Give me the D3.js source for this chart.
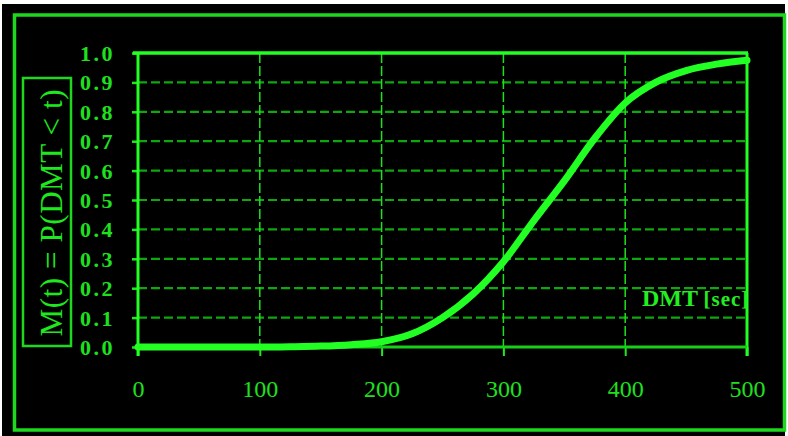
<!DOCTYPE html>
<html>
<head>
<meta charset="utf-8">
<script src="https://cdn.jsdelivr.net/npm/d3@7/dist/d3.min.js"></script>
<style>
  body { margin: 0; background: #fff; }
  svg { display: block; }
  .tick text { font-family: "Liberation Serif", "Times New Roman", serif; fill: #1fe01f; }
</style>
</head>
<body>
<script>
// DMT seconds vs cumulative probability
const dmtTimes = [0, 50, 100, 125, 150, 175, 200, 225, 250, 275, 300, 325, 350, 375, 400, 425, 450, 475, 500];
const probValues = [0, 0, 0, 0.001, 0.003, 0.008, 0.018, 0.045, 0.1, 0.18, 0.29, 0.43, 0.565, 0.71, 0.83, 0.9, 0.94, 0.962, 0.975];

const xTicks = [0, 100, 200, 300, 400, 500];
const yTicks = [0, 0.1, 0.2, 0.3, 0.4, 0.5, 0.6, 0.7, 0.8, 0.9, 1.0];

const W = 788, H = 436;
const plot = {left: 138, right: 747, top: 53, bottom: 347};

const svg = d3.select("body").append("svg")
  .attr("width", W)
  .attr("height", H);

// black card with green frame
svg.append("rect")
  .attr("x", 2).attr("y", 4)
  .attr("width", 783).attr("height", 432)
  .attr("fill", "#000");
svg.append("rect")
  .attr("x", 14.5).attr("y", 15)
  .attr("width", 770).attr("height", 415)
  .attr("fill", "none")
  .attr("stroke", "#1ed81e")
  .attr("stroke-width", 3.5);

const x = d3.scaleLinear().domain([0, 500]).range([plot.left, plot.right]);
const y = d3.scaleLinear().domain([0, 1]).range([plot.bottom, plot.top]);

// horizontal grid
svg.append("g")
  .selectAll("line")
  .data(yTicks.filter(d => d > 0 && d < 1))
  .enter().append("line")
  .attr("x1", plot.left).attr("x2", plot.right)
  .attr("y1", d => y(d)).attr("y2", d => y(d))
  .attr("stroke", "#0ea80e")
  .attr("stroke-width", 2.2)
  .attr("stroke-dasharray", "9,4");

// vertical grid
svg.append("g")
  .selectAll("line")
  .data(xTicks.filter(d => d > 0 && d < 500))
  .enter().append("line")
  .attr("x1", d => x(d)).attr("x2", d => x(d))
  .attr("y1", plot.top).attr("y2", plot.bottom)
  .attr("stroke", "#1ee01e")
  .attr("stroke-width", 1.5)
  .attr("stroke-dasharray", "10,3");

// axes
const yAxis = svg.append("g")
  .attr("transform", `translate(${plot.left},0)`)
  .call(d3.axisLeft(y).tickValues(yTicks).tickFormat(d3.format(".1f")).tickSize(6).tickPadding(17));
yAxis.select(".domain").remove();
yAxis.selectAll(".tick line").attr("stroke", "#1ee81e").attr("stroke-width", 2.5);
yAxis.selectAll(".tick text")
  .style("font-size", "22px")
  .style("font-weight", "bold")
  .style("letter-spacing", "2.5px")
  .attr("dy", "0.34em");

const xAxis = svg.append("g")
  .attr("transform", `translate(0,${plot.bottom})`)
  .call(d3.axisBottom(x).tickValues(xTicks).tickFormat(d3.format("d")).tickSize(9).tickPadding(24));
xAxis.select(".domain").remove();
xAxis.selectAll(".tick line").attr("stroke", "#1ee81e").attr("stroke-width", 2);
xAxis.selectAll(".tick text")
  .style("font-size", "24px");

// plot frame
svg.append("line")
  .attr("x1", plot.left - 5).attr("x2", plot.right + 1)
  .attr("y1", plot.top).attr("y2", plot.top)
  .attr("stroke", "#22ff22").attr("stroke-width", 3.5);
svg.append("line")
  .attr("x1", plot.left).attr("x2", plot.left)
  .attr("y1", plot.top).attr("y2", plot.bottom + 9)
  .attr("stroke", "#22ff22").attr("stroke-width", 3);
svg.append("line")
  .attr("x1", plot.right).attr("x2", plot.right)
  .attr("y1", plot.top).attr("y2", plot.bottom + 9)
  .attr("stroke", "#22ff22").attr("stroke-width", 3);
svg.append("line")
  .attr("x1", plot.left).attr("x2", plot.right)
  .attr("y1", plot.bottom).attr("y2", plot.bottom)
  .attr("stroke", "#16d016").attr("stroke-width", 3);

// curve
const line = d3.line()
  .x((d, i) => x(dmtTimes[i]))
  .y(d => y(d))
  .curve(d3.curveMonotoneX);
svg.append("path")
  .datum(probValues)
  .attr("d", line)
  .attr("fill", "none")
  .attr("stroke", "#22ff22")
  .attr("stroke-width", 7)
  .attr("stroke-linecap", "round");

// x axis title
const xt = svg.append("text")
  .attr("x", 642).attr("y", 306)
  .attr("font-family", "Liberation Serif, Times New Roman, serif")
  .attr("font-weight", "bold")
  .attr("fill", "#22ee22");
xt.append("tspan").attr("font-size", "24px").text("DMT ");
xt.append("tspan").attr("font-size", "21px").attr("letter-spacing", "1px").text("[sec]");

// y axis title in a box
svg.append("rect")
  .attr("x", 23).attr("y", 78)
  .attr("width", 48).attr("height", 268)
  .attr("fill", "none")
  .attr("stroke", "#1ed81e")
  .attr("stroke-width", 2.5);
svg.append("text")
  .attr("transform", "translate(62,213) rotate(-90)")
  .attr("text-anchor", "middle")
  .attr("font-family", "Liberation Serif, Times New Roman, serif")
  .attr("font-size", "31px")
  .attr("fill", "#1ee81e")
  .attr("textLength", 247)
  .text("M(t) = P(DMT < t)");
</script>
</body>
</html>
